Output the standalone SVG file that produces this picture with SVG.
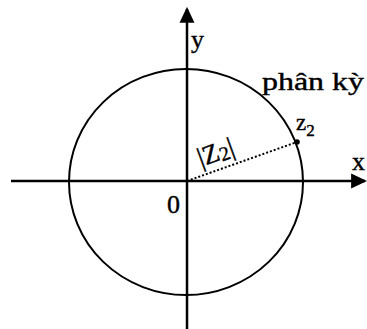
<svg xmlns="http://www.w3.org/2000/svg" width="367" height="329" viewBox="0 0 367 329">
<style>
.ax{stroke:#000;stroke-width:2.5;fill:none}
.t{font-family:"Liberation Serif","Times New Roman",serif;fill:#000;stroke:#000;stroke-width:0.4}
</style>
<defs>
<marker id="ah" markerWidth="16" markerHeight="16" refX="13" refY="7" orient="auto" markerUnits="userSpaceOnUse" viewBox="0 0 15 14">
<path d="M0,0 L15,7 L0,14 Z" fill="#000"/>
</marker>
</defs>
<rect width="367" height="329" fill="#fff"/>
<g id="connectors">
<line class="ax" x1="11" y1="181" x2="365" y2="181" marker-end="url(#ah)"/>
<line class="ax" x1="187" y1="329" x2="187" y2="9" marker-end="url(#ah)"/>
<line x1="187" y1="181" x2="297" y2="142" stroke="#000" stroke-width="2" stroke-dasharray="2,2"/>
</g>
<g id="circle">
<ellipse cx="186" cy="182" rx="117" ry="113" fill="none" stroke="#000" stroke-width="2"/>
</g>
<g id="z2">
<circle cx="297" cy="142" r="2.8" fill="#000"/>
<text class="t" x="296" y="130" font-size="23">z<tspan font-size="17" dy="6">2</tspan></text>
</g>
<g id="labels">
<text class="t" x="191" y="48" font-size="26">y</text>
<text class="t" x="352" y="170" font-size="26">x</text>
<text class="t" x="167" y="213" font-size="26">0</text>
<text class="t" x="262" y="90" font-size="25" textLength="102" lengthAdjust="spacingAndGlyphs">phân kỳ</text>
<text class="t" font-size="27" transform="translate(201,167) rotate(-20)">|Z<tspan font-size="20" dy="2">2</tspan><tspan dy="-2">|</tspan></text>
</g>
</svg>
